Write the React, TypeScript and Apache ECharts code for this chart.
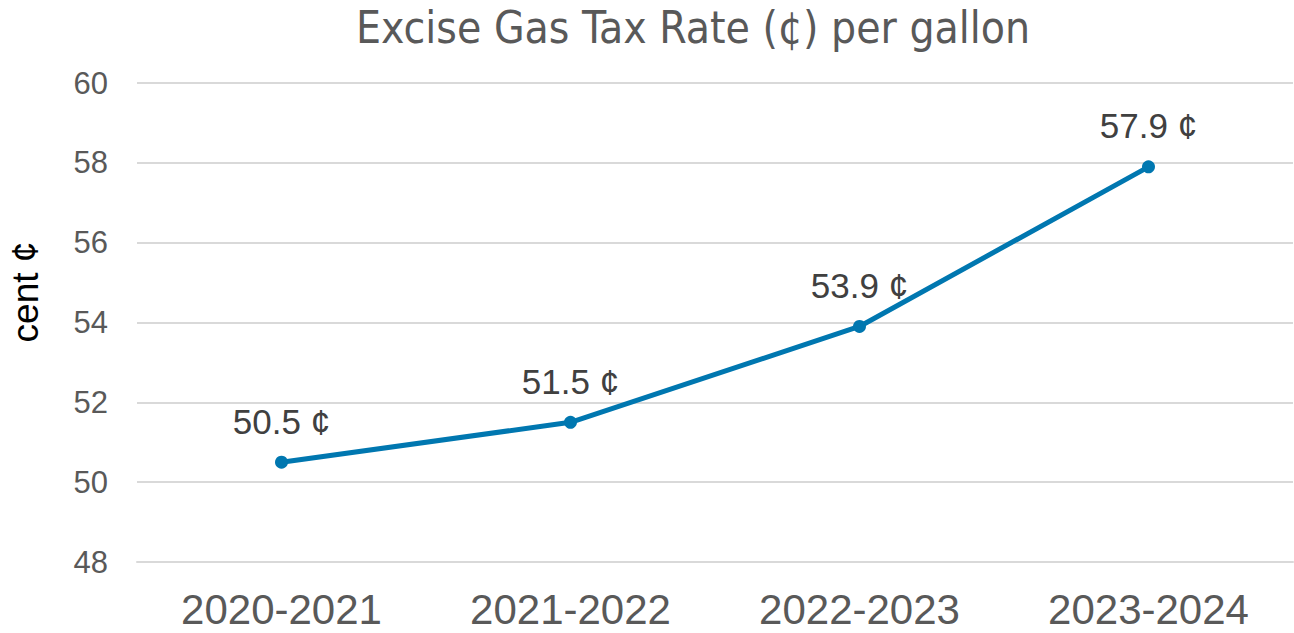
import React, { useEffect, useRef } from "react";
import * as echarts from "echarts";

const categories = ["2020-2021", "2021-2022", "2022-2023", "2023-2024"];
const rates = [50.5, 51.5, 53.9, 57.9];
const yTicks = [48, 50, 52, 54, 56, 58, 60];

export default function App() {
  const ref = useRef<HTMLDivElement>(null);
  useEffect(() => {
    const chart = echarts.init(ref.current!, null, { renderer: "svg" });
    chart.setOption({
      animation: false,
      backgroundColor: "#ffffff",
      title: {
        text: "Excise Gas Tax Rate (¢) per gallon",
        left: 688,
        textAlign: "center",
        top: 0,
        textStyle: {
          fontFamily: "'DejaVu Sans Condensed', 'Liberation Sans', sans-serif",
          fontWeight: "normal",
          fontSize: 44,
          lineHeight: 44,
          color: "#595959",
        },
      },
      graphic: [
        {
          type: "text",
          x: 25,
          y: 292,
          rotation: Math.PI / 2,
          style: {
            text: "cent ¢",
            fontFamily: "Liberation Sans",
            fontSize: 37,
            fill: "#000000",
            align: "center",
            verticalAlign: "middle",
          },
        },
      ],
      grid: { left: 137, right: 1, top: 83, bottom: 71, containLabel: false },
      xAxis: {
        type: "category",
        data: categories,
        boundaryGap: true,
        axisLine: { show: true, lineStyle: { color: "#d9d9d9", width: 2 } },
        axisTick: { show: false },
        axisLabel: {
          fontFamily: "Liberation Sans",
          fontSize: 42,
          lineHeight: 36,
          color: "#595959",
          margin: 29,
        },
      },
      yAxis: {
        type: "value",
        min: yTicks[0],
        max: yTicks[yTicks.length - 1],
        interval: 2,
        axisLine: { show: false },
        axisTick: { show: false },
        axisLabel: {
          fontFamily: "Liberation Sans",
          fontSize: 31,
          color: "#595959",
          margin: 29,
        },
        splitLine: { lineStyle: { color: "#d9d9d9", width: 2 } },
      },
      series: [
        {
          type: "line",
          data: rates,
          color: "#0077b0",
          lineStyle: { width: 5, color: "#0077b0" },
          symbol: "circle",
          symbolSize: 13,
          itemStyle: { color: "#0077b0" },
          label: {
            show: true,
            position: "top",
            distance: 17,
            formatter: (p: any) => `${p.value} ¢`,
            fontFamily: "Liberation Sans",
            fontSize: 35,
            color: "#404040",
          },
        },
      ],
    });
    return () => chart.dispose();
  }, []);
  return (
    <div
      ref={ref}
      style={{ position: "absolute", left: 0, top: 0, width: 1294, height: 633 }}
    />
  );
}
